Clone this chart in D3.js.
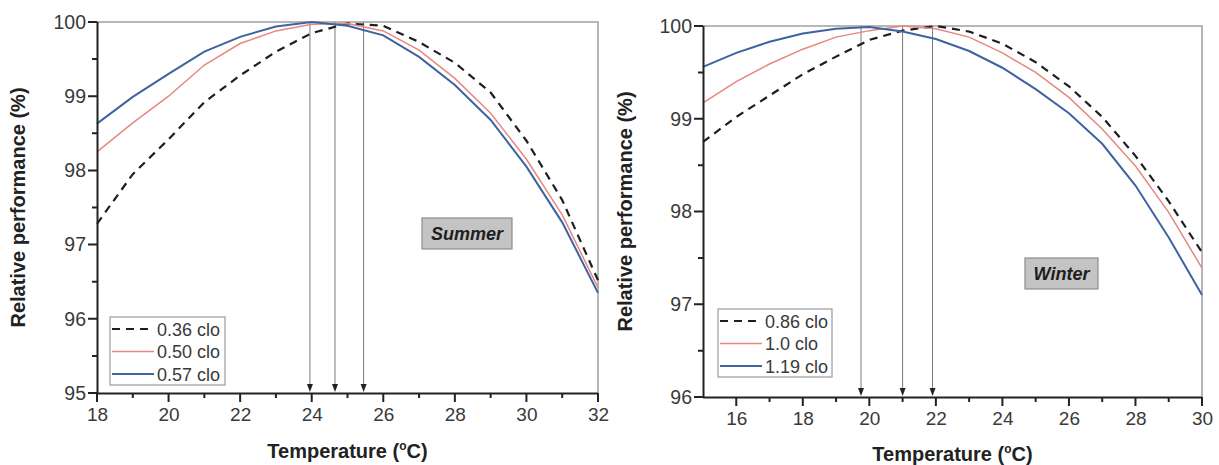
<!DOCTYPE html>
<html>
<head>
<meta charset="utf-8">
<script src="https://cdn.jsdelivr.net/npm/d3@7"></script>
<style>
  html, body { margin: 0; padding: 0; background: #fff; }
  svg { display: block; }
  text { font-family: "Liberation Sans", Arial, sans-serif; }
</style>
</head>
<body>
<svg id="chart" width="1219" height="465"></svg>
<script>
// ---------- DATA ----------
const summerTemps = [18, 19, 20, 21, 22, 23, 24, 25, 26, 27, 28, 29, 30, 31, 32];
const summer036 = [97.28, 97.95, 98.42, 98.92, 99.28, 99.6, 99.85, 99.98, 99.95, 99.73, 99.45, 99.05, 98.4, 97.6, 96.52];
const summer050 = [98.25, 98.64, 99.0, 99.42, 99.71, 99.88, 99.97, 99.98, 99.88, 99.62, 99.24, 98.77, 98.15, 97.4, 96.42];
const summer057 = [98.63, 98.99, 99.3, 99.6, 99.8, 99.94, 100.0, 99.95, 99.82, 99.53, 99.15, 98.68, 98.05, 97.3, 96.35];
const summerLabels = ["0.36 clo", "0.50 clo", "0.57 clo"];
const summerOptima = [23.95, 24.65, 25.45];

const winterTemps = [15, 16, 17, 18, 19, 20, 21, 22, 23, 24, 25, 26, 27, 28, 29, 30];
const winter086 = [98.75, 99.02, 99.25, 99.48, 99.67, 99.85, 99.95, 100.0, 99.94, 99.81, 99.61, 99.35, 99.02, 98.6, 98.11, 97.56];
const winter100 = [99.17, 99.4, 99.59, 99.75, 99.88, 99.95, 100.0, 99.97, 99.88, 99.71, 99.5, 99.23, 98.89, 98.49, 97.99, 97.39];
const winter119 = [99.56, 99.71, 99.83, 99.92, 99.97, 99.99, 99.94, 99.86, 99.73, 99.55, 99.32, 99.06, 98.73, 98.28, 97.72, 97.1];
const winterLabels = ["0.86 clo", "1.0 clo", "1.19 clo"];
const winterOptima = [19.75, 21.0, 21.9];

const summerXTicks = [18, 20, 22, 24, 26, 28, 30, 32];
const summerYTicks = [95, 96, 97, 98, 99, 100];
const winterXTicks = [16, 18, 20, 22, 24, 26, 28, 30];
const winterYTicks = [96, 97, 98, 99, 100];

const yTitle = "Relative performance (%)";
const seasonNames = ["Summer", "Winter"];

// ---------- STYLE ----------
const styles = [
  { color: "#1e1e1e", width: 2.2, dash: "8,6" },
  { color: "#e8877f", width: 1.5, dash: null },
  { color: "#3d64a0", width: 2.0, dash: null }
];

const svg = d3.select("#chart");
svg.append("rect").attr("width", 1219).attr("height", 465).attr("fill", "#fff");

function panel(cfg) {
  const x = d3.scaleLinear().domain(cfg.xDomain).range([cfg.left, cfg.right]);
  const y = d3.scaleLinear().domain(cfg.yDomain).range([cfg.bottom, cfg.top]);
  const g = svg.append("g");

  // frame (top/right gray)
  g.append("path")
    .attr("d", `M${cfg.left},${cfg.top} H${cfg.right} V${cfg.bottom}`)
    .attr("fill", "none").attr("stroke", "#a0a0a0").attr("stroke-width", 1.5);

  // optimum lines with arrows
  cfg.optima.forEach(t => {
    const xp = x(t);
    g.append("line")
      .attr("x1", xp).attr("x2", xp)
      .attr("y1", cfg.top).attr("y2", cfg.bottom - 6)
      .attr("stroke", "#7a7a7a").attr("stroke-width", 1);
    g.append("path")
      .attr("d", `M${xp - 3},${cfg.bottom - 9} L${xp + 3},${cfg.bottom - 9} L${xp},${cfg.bottom - 1} Z`)
      .attr("fill", "#222");
  });

  // curves
  const line = d3.line().x(d => x(d[0])).y(d => y(d[1]));
  cfg.series.forEach((vals, i) => {
    const pts = cfg.temps.map((t, j) => [t, vals[j]]);
    g.append("path").datum(pts)
      .attr("d", line)
      .attr("fill", "none")
      .attr("stroke", styles[i].color)
      .attr("stroke-width", styles[i].width)
      .attr("stroke-dasharray", styles[i].dash);
  });

  // axes (labels + main lines)
  const xa = g.append("g").attr("transform", `translate(0,${cfg.bottom})`)
    .call(d3.axisBottom(x).tickValues(cfg.xTicks).tickSize(0).tickPadding(15).tickFormat(d3.format("d")));
  xa.select(".domain").attr("stroke", "#222").attr("stroke-width", 2)
    .attr("d", `M${cfg.left},0.5H${cfg.right}`);
  xa.selectAll(".tick text").attr("font-size", 19).attr("fill", "#3a3a3a")
    .attr("font-family", "Liberation Sans, Arial, sans-serif");

  const ya = g.append("g").attr("transform", `translate(${cfg.left},0)`)
    .call(d3.axisLeft(y).tickValues(cfg.yTicks).tickSize(0).tickPadding(11).tickFormat(d3.format("d")));
  ya.select(".domain").attr("stroke", "#222").attr("stroke-width", 2)
    .attr("d", `M0.5,${cfg.bottom}V${cfg.top}`);
  ya.selectAll(".tick text").attr("font-size", 19.5).attr("fill", "#3a3a3a")
    .attr("font-family", "Liberation Sans, Arial, sans-serif");

  // ticks (major + minor, outward)
  const xMinor = d3.range(cfg.xDomain[0], cfg.xDomain[1] + 0.01, 1)
    .filter(v => !cfg.xTicks.includes(v) && v !== cfg.xDomain[0]);
  const yMinor = d3.range(cfg.yDomain[0] + 0.5, cfg.yDomain[1], 1);
  let d = "";
  cfg.xTicks.forEach(v => { d += `M${x(v)},${cfg.bottom}V${cfg.bottom + 9}`; });
  xMinor.forEach(v => { d += `M${x(v)},${cfg.bottom}V${cfg.bottom + 5}`; });
  cfg.yTicks.forEach(v => { d += `M${cfg.left},${y(v)}H${cfg.left - 9}`; });
  yMinor.forEach(v => { d += `M${cfg.left},${y(v)}H${cfg.left - 5}`; });
  g.append("path").attr("d", d).attr("fill", "none").attr("stroke", "#222").attr("stroke-width", 2);

  // axis titles
  g.append("text")
    .attr("transform", `translate(${cfg.yTitleX},${(cfg.top + cfg.bottom) / 2}) rotate(-90)`)
    .attr("text-anchor", "middle").attr("font-size", 20).attr("font-weight", "bold").attr("fill", "#222")
    .text(yTitle);
  const xt = g.append("text")
    .attr("x", (cfg.left + cfg.right) / 2).attr("y", cfg.xTitleY)
    .attr("text-anchor", "middle").attr("font-size", 20).attr("font-weight", "bold").attr("fill", "#222");
  xt.append("tspan").text("Temperature (");
  xt.append("tspan").attr("font-size", 12).attr("dy", -8).text("o");
  xt.append("tspan").attr("dy", 8).text("C)");

  // legend
  const L = cfg.legend;
  g.append("rect").attr("x", L.x).attr("y", L.y).attr("width", L.w).attr("height", L.h)
    .attr("fill", "#fff").attr("stroke", "#9a9a9a").attr("stroke-width", 1.2);
  cfg.labels.forEach((lab, i) => {
    const cy = L.y + 12 + i * 22.5;
    g.append("line").attr("x1", L.x + 2).attr("x2", L.x + 44).attr("y1", cy).attr("y2", cy)
      .attr("stroke", styles[i].color).attr("stroke-width", styles[i].width)
      .attr("stroke-dasharray", styles[i].dash);
    g.append("text").attr("x", L.x + 47).attr("y", cy + 6.5)
      .attr("font-size", 18).attr("fill", "#3a3a3a").text(lab);
  });

  // season box
  const S = cfg.season;
  g.append("rect").attr("x", S.x).attr("y", S.y).attr("width", S.w).attr("height", S.h)
    .attr("fill", "#c4c4c4").attr("stroke", "#8c8c8c").attr("stroke-width", 1.2);
  g.append("text").attr("x", S.x + S.w / 2).attr("y", S.y + S.h / 2 + 6.5)
    .attr("text-anchor", "middle").attr("font-size", 18).attr("font-weight", "bold")
    .attr("font-style", "italic").attr("fill", "#1e1e1e").text(S.name);
}

panel({
  left: 97, right: 598, top: 22, bottom: 393,
  xDomain: [18, 32], yDomain: [95, 100],
  xTicks: summerXTicks, yTicks: summerYTicks,
  temps: summerTemps, series: [summer036, summer050, summer057],
  labels: summerLabels, optima: summerOptima,
  yTitleX: 25, xTitleY: 458,
  legend: { x: 110, y: 317, w: 115, h: 68 },
  season: { x: 422, y: 218, w: 90, h: 31, name: seasonNames[0] }
});

panel({
  left: 703, right: 1202, top: 26, bottom: 397,
  xDomain: [15, 30], yDomain: [96, 100],
  xTicks: winterXTicks, yTicks: winterYTicks,
  temps: winterTemps, series: [winter086, winter100, winter119],
  labels: winterLabels, optima: winterOptima,
  yTitleX: 632, xTitleY: 461,
  legend: { x: 718, y: 309, w: 114, h: 68 },
  season: { x: 1025, y: 258, w: 73, h: 31, name: seasonNames[1] }
});
</script>
</body>
</html>
